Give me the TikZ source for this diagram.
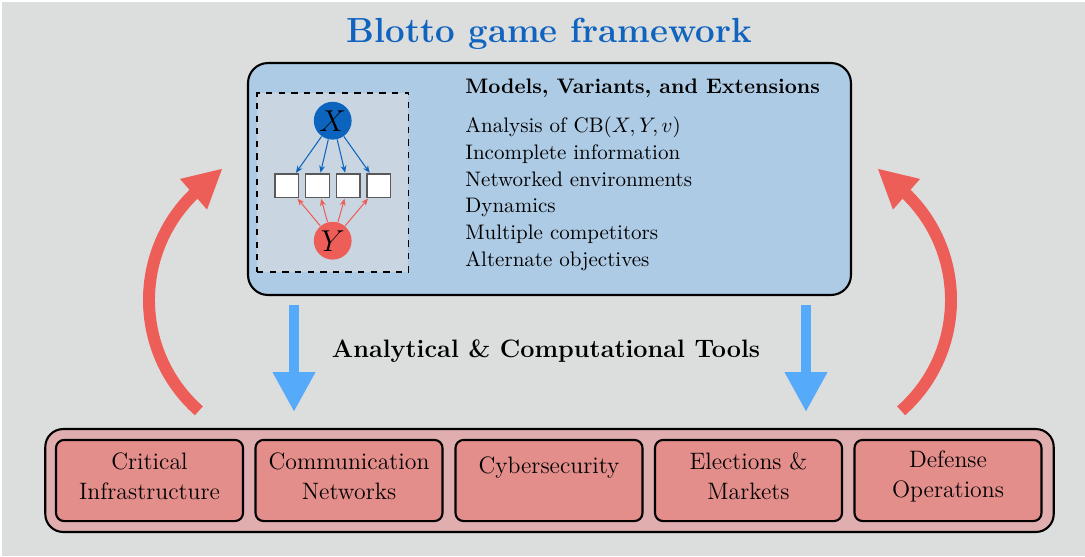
\documentclass[tikz,border=0pt]{standalone}
\usepackage{fontspec}
\usepackage{tikz}
\usetikzlibrary{arrows.meta}
\definecolor{bggrey}{RGB}{220,222,221}
\definecolor{titleblue}{RGB}{16,100,192}
\definecolor{panelblue}{RGB}{173,203,229}
\definecolor{insetgrey}{RGB}{201,214,226}
\definecolor{xblue}{RGB}{12,100,190}
\definecolor{yred}{RGB}{238,94,89}
\definecolor{toolblue}{RGB}{85,170,249}
\definecolor{apppink}{RGB}{224,174,174}
\definecolor{appred}{RGB}{227,142,139}

\begin{document}
\begin{tikzpicture}[x=0.476pt,y=-0.476pt,
  player/.style={circle,minimum size=18pt,inner sep=0pt,font=\Large},
  field/.style={draw=black!65,fill=white,minimum size=11.2pt,inner sep=0pt,line width=0.6pt},
  alloc/.style={-{Stealth[length=3.4pt,width=2.8pt]},line width=0.5pt,shorten >=0.3pt},
  appbox/.style={draw=black,fill=appred,rounded corners=3.8pt,line width=1pt,minimum width=89pt,minimum height=38.6pt,inner sep=0pt},
  apptext/.style={align=center,font=\fontsize{11.3}{14.3}\selectfont},
  toolarrow/.style={draw=toolblue,line width=5.2pt,-{Triangle[length=19pt,width=19pt]}},
  feedback/.style={draw=yred,line width=5.7pt,-{Triangle[length=18.6pt,width=18pt]}}]
\useasboundingbox (0,0) rectangle (1085,556);
% Drawing background
\fill[white] (0,0) rectangle (1085,556);
\fill[bggrey] (2,2) rectangle (1085,556);
\node[font=\fontsize{16.6}{20}\bfseries\selectfont,text=titleblue,anchor=base] (title) at (549.5,42.3) {Blotto game framework};
% Drawing the model panel
\node[draw=black,fill=panelblue,line width=1pt,rounded corners=9.5pt,minimum width=287pt,minimum height=110.4pt] (panel) at (549.5,179) {};
\node[draw=black,dashed,fill=insetgrey,line width=0.8pt,minimum width=72pt,minimum height=85.2pt] (inset) at (332.8,182.3) {};
\node[player,fill=xblue] (X) at (332.7,120.7) {$X$};
\node[player,fill=yred] (Y) at (332.7,240.7) {$Y$};
\foreach \i/\x in {1/286.8,2/317.5,3/348.2,4/378.8}
  \node[field] (f\i) at (\x,185.7) {};
\foreach \i in {1,...,4} {
  \draw[alloc,xblue] (X) -- (f\i);
  \draw[alloc,yred] (Y) -- (f\i);
}
\node[anchor=base west,inner xsep=0pt,font=\bfseries] (head) at (465,93) {Models, Variants, and Extensions};
\foreach \t [count=\i from 0] in {{Analysis of CB$(X,Y,v)$},Incomplete information,Networked environments,Dynamics,Multiple competitors,Alternate objectives}
  \node[anchor=base west,inner xsep=0pt] (m\i) at (465,132.7+26.7*\i) {\t};
% Done with panel; drawing tools
\node[font=\large\bfseries,anchor=base] (tools) at (546,357.3) {Analytical \& Computational Tools};
\coordinate (dl0) at (294,305);
\coordinate (dl1) at (294,412);
\coordinate (dr0) at (806,305);
\coordinate (dr1) at (806,412);
\draw[toolarrow] (dl0) -- (dl1);
\draw[toolarrow] (dr0) -- (dr1);
% Drawing applications
\node[draw=black,fill=apppink,line width=1pt,rounded corners=8.5pt,minimum width=480pt,minimum height=49pt] (apps) at (549.5,480.5) {};
\foreach \i/\x/\y/\t in {1/149.5/476/{Critical\\Infrastructure},2/349/476/{Communication\\Networks},3/549/468/{Cybersecurity},4/748.5/476/{Elections \&\\Markets},5/948/476/{Defense\\Operations}} {
  \node[appbox] (a\i) at (\x,480.5) {};
  \node[apptext] (t\i) at (\x,\y) {\t};
}
% Drawing feedback arrows
\coordinate (fl0) at (198.9,410.8);
\coordinate (fl1) at (222.7,168.3);
\coordinate (fr0) at (901.1,410.8);
\coordinate (fr1) at (877.3,168.3);
\draw[feedback] (fl0) .. controls (134.6,353.9) and (132.1,254.5) .. (193.3,194.4) -- (fl1);
\draw[feedback] (fr0) .. controls (965.4,353.9) and (967.9,254.5) .. (906.7,194.4) -- (fr1);
\end{tikzpicture}
\end{document}
